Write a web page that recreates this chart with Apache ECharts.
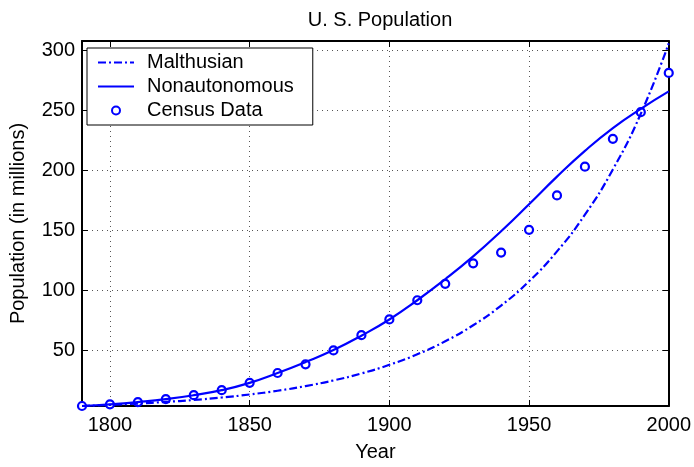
<!DOCTYPE html>
<html>
<head>
<meta charset="utf-8">
<script src="https://cdn.jsdelivr.net/npm/echarts@6/dist/echarts.min.js"></script>
<style>
  html, body { margin: 0; padding: 0; background: #fff; }
  #chart { width: 694px; height: 467px; }
</style>
</head>
<body>
<div id="chart"></div>
<script>
// census years and values (millions)
const years = [1790, 1800, 1810, 1820, 1830, 1840, 1850, 1860, 1870, 1880, 1890,
  1900, 1910, 1920, 1930, 1940, 1950, 1960, 1970, 1980, 1990, 2000];
const census = [3.9, 5.3, 7.2, 9.6, 12.9, 17.1, 23.2, 31.4, 38.6, 50.2, 62.9,
  76.0, 92.0, 105.7, 122.8, 131.7, 150.7, 179.3, 203.3, 226.5, 248.7, 281.4];
// model curves
const malthusian = [3.9, 4.8, 5.9, 7.3, 8.9, 11.0, 13.5, 16.6, 20.5, 25.2, 31.0,
  38.2, 47.0, 57.8, 71.2, 87.6, 107.8, 132.7, 163.3, 201.0, 247.4, 306.0];
const nonautonomous = [3.9, 5.3, 7.2, 9.6, 12.9, 17.1, 23.2, 31.4, 40.5, 50.5, 62.5,
  76.0, 92.0, 109.5, 128.5, 149.5, 172.0, 195.0, 216.5, 235.5, 251.5, 266.0];
const xTicks = [1800, 1850, 1900, 1950, 2000];
const yTicks = [50, 100, 150, 200, 250, 300];

const pairs = (ys) => years.map((y, i) => [y, ys[i]]);

const font = 'Liberation Sans, Arial, Helvetica, sans-serif';
const blue = '#0000ff';
const fs = 20;

const chart = echarts.init(document.getElementById('chart'));

const axisCommon = {
  type: 'value',
  axisLine: { show: true, onZero: false, lineStyle: { color: '#000', width: 2 } },
  axisTick: { show: true, inside: true, length: 6, lineStyle: { color: '#000', width: 1 } },
};
const hiddenMark = { color: 'rgba(0,0,0,0)', borderWidth: 0, opacity: 0 };

chart.setOption({
  animation: false,
  backgroundColor: '#fff',
  title: {
    text: 'U. S. Population',
    left: 375,
    textAlign: 'center',
    top: 5,
    textStyle: { fontFamily: font, fontSize: fs, fontWeight: 'normal', color: '#000' }
  },
  legend: {
    left: 87,
    top: 48,
    orient: 'vertical',
    backgroundColor: '#fff',
    borderColor: '#000',
    borderWidth: 1,
    borderRadius: 0,
    padding: [3, 19, 3, 10],
    itemGap: 1,
    itemWidth: 36,
    itemHeight: 8,
    textStyle: { fontFamily: font, fontSize: fs, color: '#000', padding: [0, 0, 0, 8], lineHeight: 23 },
    data: [
      { name: 'Malthusian', itemStyle: hiddenMark },
      { name: 'Nonautonomous', itemStyle: hiddenMark },
      { name: 'Census Data', icon: 'circle' }
    ]
  },
  grid: { left: 80, right: 25, top: 41, bottom: 54 },
  xAxis: [
    Object.assign({}, axisCommon, {
      min: 1790,
      max: 2000,
      position: 'bottom',
      name: 'Year',
      nameLocation: 'middle',
      nameGap: 36,
      nameTextStyle: { fontFamily: font, fontSize: fs, color: '#000' },
      axisTick: Object.assign({}, axisCommon.axisTick, { customValues: xTicks }),
      axisLabel: {
        customValues: xTicks, formatter: (v) => String(v),
        fontFamily: font, fontSize: fs, color: '#000', margin: 9
      },
      splitLine: { show: true, lineStyle: { color: '#555', width: 1, type: [1, 4] } }
    }),
    Object.assign({}, axisCommon, {
      min: 1790,
      max: 2000,
      position: 'top',
      axisTick: Object.assign({}, axisCommon.axisTick, { customValues: xTicks }),
      axisLabel: { show: false },
      splitLine: { show: false }
    })
  ],
  yAxis: [
    Object.assign({}, axisCommon, {
      min: 3.9,
      max: 308,
      position: 'left',
      name: 'Population (in millions)',
      nameLocation: 'middle',
      nameGap: 54,
      nameTextStyle: { fontFamily: font, fontSize: fs, color: '#000' },
      axisTick: Object.assign({}, axisCommon.axisTick, { customValues: yTicks }),
      axisLabel: {
        customValues: yTicks, formatter: (v) => String(v),
        fontFamily: font, fontSize: fs, color: '#000', margin: 7
      },
      splitLine: { show: true, lineStyle: { color: '#555', width: 1, type: [1, 4] } }
    }),
    Object.assign({}, axisCommon, {
      min: 3.9,
      max: 308,
      position: 'right',
      axisTick: Object.assign({}, axisCommon.axisTick, { customValues: yTicks }),
      axisLabel: { show: false },
      splitLine: { show: false }
    })
  ],
  series: [
    {
      name: 'Malthusian',
      type: 'line',
      smooth: true,
      symbol: 'none',
      xAxisIndex: 0,
      yAxisIndex: 0,
      itemStyle: { color: blue },
      lineStyle: { color: blue, width: 2.2, type: [8, 3, 2, 3] },
      data: pairs(malthusian)
    },
    {
      name: 'Nonautonomous',
      type: 'line',
      smooth: true,
      symbol: 'none',
      xAxisIndex: 0,
      yAxisIndex: 0,
      itemStyle: { color: blue },
      lineStyle: { color: blue, width: 2.2 },
      data: pairs(nonautonomous)
    },
    {
      name: 'Census Data',
      type: 'scatter',
      symbol: 'circle',
      symbolSize: 8,
      xAxisIndex: 0,
      yAxisIndex: 0,
      itemStyle: { color: '#fff', borderColor: blue, borderWidth: 2.2, opacity: 1 },
      data: pairs(census)
    }
  ]
});
</script>
</body>
</html>
